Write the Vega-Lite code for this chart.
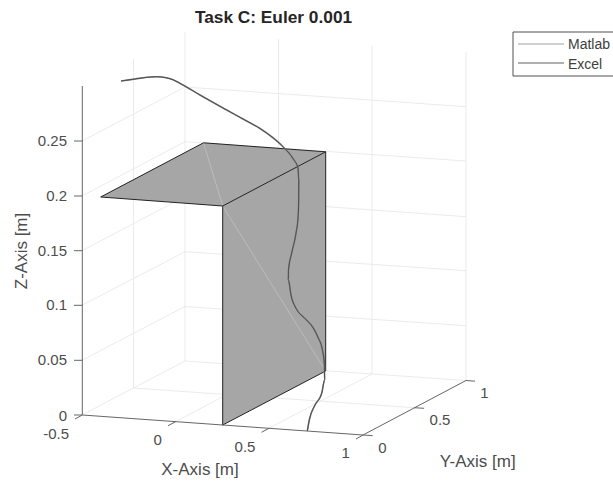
{
"$schema":"https://vega.github.io/schema/vega-lite/v6.json",
"width":613,"height":481,"padding":0,"autosize":{"type":"none"},
"background":"white","config":{"view":{"stroke":null}},
"datasets":{
"grid":[
{"u":82,"v":360.3,"u2":185,"v2":306.5},{"u":82,"v":305.3,"u2":185,"v2":251.7},{"u":82,"v":250.7,"u2":185,"v2":196.5},{"u":82,"v":196,"u2":185,"v2":141.7},{"u":82,"v":141,"u2":185,"v2":87},
{"u":185,"v":361,"u2":466,"v2":380.5},{"u":185,"v":306.5,"u2":466,"v2":325.7},{"u":185,"v":251.7,"u2":466,"v2":270.7},{"u":185,"v":196.5,"u2":466,"v2":216.7},{"u":185,"v":141.7,"u2":466,"v2":161},{"u":185,"v":87,"u2":466,"v2":106.7},
{"u":82,"v":415,"u2":185,"v2":361},
{"u":133.5,"v":388,"u2":133.5,"v2":59},{"u":185,"v":361,"u2":185,"v2":32},{"u":278.5,"v":367,"u2":278.5,"v2":39},{"u":372,"v":374,"u2":372,"v2":45},{"u":466,"v":380.5,"u2":466,"v2":52},
{"u":175.7,"v":421.7,"u2":278.5,"v2":367},{"u":269,"v":428.3,"u2":372,"v2":374},{"u":133.5,"v":388,"u2":414,"v2":407.7}
],
"top":[{"u":100.7,"a":197,"b":197},{"u":203.5,"a":142.8,"b":204.6},{"u":222.7,"a":144.2,"b":206},{"u":325.7,"a":151.8,"b":151.8}],
"front":[{"u":222.7,"a":206,"b":425},{"u":325.7,"a":151.8,"b":371}],
"diag":[{"u":203.5,"v":142.8,"u2":222.7,"v2":206},{"u":222.7,"v":206,"u2":325.7,"v2":371}],
"edges":[
{"u":100.7,"v":197,"u2":203.5,"v2":142.8},{"u":203.5,"v":142.8,"u2":325.7,"v2":151.8},{"u":100.7,"v":197,"u2":222.7,"v2":206},{"u":222.7,"v":206,"u2":325.7,"v2":151.8},
{"u":222.7,"v":206,"u2":222.7,"v2":425},{"u":325.7,"v":151.8,"u2":325.7,"v2":371},{"u":222.7,"v":425,"u2":325.7,"v2":371}
],
"axes":[
{"u":82.3,"v":86,"u2":82.3,"v2":415},{"u":82.3,"v":415,"u2":363,"v2":435},{"u":363,"v":435,"u2":466,"v2":380.5},
{"u":74,"v":415,"u2":82.3,"v2":415},{"u":74,"v":360.3,"u2":82.3,"v2":360.3},{"u":74,"v":305.3,"u2":82.3,"v2":305.3},{"u":74,"v":250.7,"u2":82.3,"v2":250.7},{"u":74,"v":196,"u2":82.3,"v2":196},{"u":74,"v":141,"u2":82.3,"v2":141},
{"u":75,"v":419,"u2":82.3,"v2":415},{"u":168,"v":425.7,"u2":175.7,"v2":421.7},{"u":261.5,"v":432.3,"u2":269,"v2":428.3},{"u":356,"v":439,"u2":363,"v2":435},
{"u":363,"v":435,"u2":372.7,"v2":435.7},{"u":414,"v":407.7,"u2":424,"v2":408.3},{"u":466,"v":380.5,"u2":475,"v2":381.2}
],
"curve":[
{"o":0,"u":121,"v":81},{"o":1,"u":135,"v":79},{"o":2,"u":147,"v":77.3},{"o":3,"u":157,"v":76.7},{"o":4,"u":165,"v":77.5},{"o":5,"u":173,"v":79.7},{"o":6,"u":183,"v":85},{"o":7,"u":200,"v":95},{"o":8,"u":226.7,"v":110},{"o":9,"u":243,"v":119},{"o":10,"u":260,"v":128.5},{"o":11,"u":272,"v":137},{"o":12,"u":283,"v":146.7},{"o":13,"u":293.3,"v":159},{"o":14,"u":298,"v":168},{"o":15,"u":298.8,"v":180},{"o":16,"u":298.7,"v":200},{"o":17,"u":298,"v":218},{"o":18,"u":296.2,"v":232},{"o":19,"u":291.7,"v":253},{"o":20,"u":288.5,"v":270},{"o":21,"u":288.3,"v":280},{"o":22,"u":291.2,"v":296},{"o":23,"u":296.7,"v":309.5},{"o":24,"u":305,"v":318.5},{"o":25,"u":313.3,"v":328},{"o":26,"u":318.3,"v":338},{"o":27,"u":322,"v":348},{"o":28,"u":324.3,"v":363},{"o":29,"u":324.7,"v":380},{"o":30,"u":321.7,"v":393.3},{"o":31,"u":315,"v":405},{"o":32,"u":309.3,"v":420},{"o":33,"u":307.3,"v":431}
],
"ticks":[
{"t":"0.25","u":67,"v":141},{"t":"0.2","u":67,"v":196},{"t":"0.15","u":67,"v":250.7},{"t":"0.1","u":67,"v":305.3},{"t":"0.05","u":67,"v":360.3},{"t":"0","u":67,"v":415.7},{"t":"-0.5","u":69,"v":434}
],
"ticksc":[
{"t":"0","u":157.7,"v":440},{"t":"0.5","u":245,"v":446.7},{"t":"1","u":345.7,"v":452.7},{"t":"0","u":382.3,"v":447.7},{"t":"0.5","u":440,"v":420},{"t":"1","u":484.3,"v":392.7}
],
"labels":[{"t":"X-Axis [m]","u":200,"v":470},{"t":"Y-Axis [m]","u":477.7,"v":461.7}],
"zlabel":[{"t":"Z-Axis [m]","u":21.7,"v":251}],
"title":[{"t":"Task C: Euler 0.001","u":273.5,"v":18}],
"legbox":[{"u":513,"v":32,"u2":620,"v2":76}],
"legline":[{"s":"Matlab","u":518,"v":44,"u2":564,"v2":44},{"s":"Excel","u":518,"v":63,"u2":564,"v2":63}],
"legtext":[{"t":"Matlab","u":568,"v":45},{"t":"Excel","u":568,"v":65}]
},
"encoding":{
"x":{"field":"u","type":"quantitative","scale":{"domain":[0,613],"range":[0,613],"nice":false,"zero":false},"axis":null},
"y":{"field":"v","type":"quantitative","scale":{"domain":[0,481],"range":[0,481],"nice":false,"zero":false},"axis":null}
},
"layer":[
{"data":{"name":"grid"},"mark":{"type":"rule","stroke":"#e6e6e6","strokeWidth":0.8},"encoding":{"x2":{"field":"u2"},"y2":{"field":"v2"}}},
{"data":{"name":"top"},"mark":{"type":"area","fill":"#a6a6a6","orient":"vertical"},"encoding":{"y":{"field":"a","type":"quantitative"},"y2":{"field":"b"}}},
{"data":{"name":"front"},"mark":{"type":"area","fill":"#a6a6a6","orient":"vertical"},"encoding":{"y":{"field":"a","type":"quantitative"},"y2":{"field":"b"}}},
{"data":{"name":"diag"},"mark":{"type":"rule","stroke":"#c4c4c4","strokeWidth":0.7},"encoding":{"x2":{"field":"u2"},"y2":{"field":"v2"}}},
{"data":{"name":"edges"},"mark":{"type":"rule","stroke":"#222222","strokeWidth":1},"encoding":{"x2":{"field":"u2"},"y2":{"field":"v2"}}},
{"data":{"name":"axes"},"mark":{"type":"rule","stroke":"#666666","strokeWidth":1},"encoding":{"x2":{"field":"u2"},"y2":{"field":"v2"}}},
{"data":{"name":"curve"},"mark":{"type":"line","stroke":"#808080","strokeWidth":1.6,"interpolate":"monotone"},"encoding":{"order":{"field":"o"}}},
{"data":{"name":"curve"},"mark":{"type":"line","stroke":"#484848","strokeWidth":0.9,"interpolate":"monotone"},"encoding":{"order":{"field":"o"}}},
{"data":{"name":"ticks"},"mark":{"type":"text","align":"right","baseline":"middle","font":"Liberation Sans","fontSize":15,"fill":"#4d4d4d"},"encoding":{"text":{"field":"t"}}},
{"data":{"name":"ticksc"},"mark":{"type":"text","align":"center","baseline":"middle","font":"Liberation Sans","fontSize":15,"fill":"#4d4d4d"},"encoding":{"text":{"field":"t"}}},
{"data":{"name":"labels"},"mark":{"type":"text","align":"center","baseline":"middle","font":"Liberation Sans","fontSize":17,"fill":"#4d4d4d"},"encoding":{"text":{"field":"t"}}},
{"data":{"name":"zlabel"},"mark":{"type":"text","align":"center","baseline":"middle","angle":270,"font":"Liberation Sans","fontSize":17,"fill":"#4d4d4d"},"encoding":{"text":{"field":"t"}}},
{"data":{"name":"title"},"mark":{"type":"text","align":"center","baseline":"middle","font":"Liberation Sans","fontWeight":"bold","fontSize":17.3,"fill":"#262626"},"encoding":{"text":{"field":"t"}}},
{"data":{"name":"legbox"},"mark":{"type":"rect","clip":true,"fill":"white","stroke":"#505050","strokeWidth":1},"encoding":{"x2":{"field":"u2"},"y2":{"field":"v2"}}},
{"data":{"name":"legline"},"mark":{"type":"rule","strokeWidth":1},"encoding":{"x2":{"field":"u2"},"y2":{"field":"v2"},"color":{"field":"s","type":"nominal","scale":{"domain":["Matlab","Excel"],"range":["#a0a0a0","#606060"]},"legend":null}}},
{"data":{"name":"legtext"},"mark":{"type":"text","align":"left","baseline":"middle","font":"Liberation Sans","fontSize":14,"fill":"#404040"},"encoding":{"text":{"field":"t"}}}
]
}
